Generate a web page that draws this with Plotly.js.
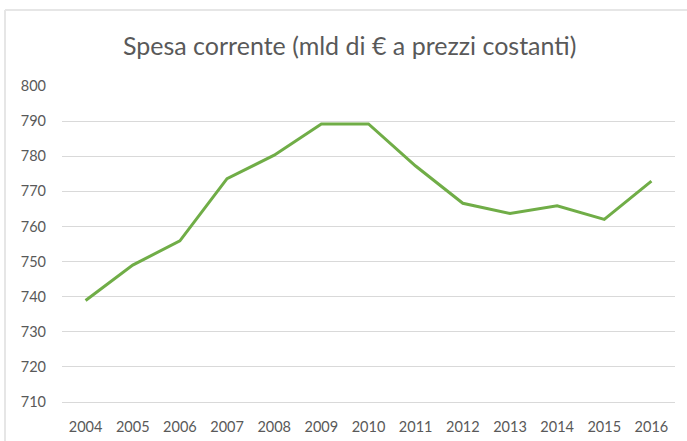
<!DOCTYPE html>
<html>
<head>
<meta charset="utf-8">
<script src="https://cdn.plot.ly/plotly-3.0.1.min.js"></script>
<style>html,body{margin:0;padding:0;background:#fff;}#chart{width:687px;height:441px;}</style>
</head>
<body>
<div id="chart"></div>
<script>
const years = ['2004','2005','2006','2007','2008','2009','2010','2011','2012','2013','2014','2015','2016'];
const spesa = [738.9, 749.0, 755.9, 773.6, 780.3, 789.2, 789.2, 777.2, 766.6, 763.7, 765.9, 762.0, 772.9];
const yTicks = [710, 720, 730, 740, 750, 760, 770, 780, 790, 800];
const titleText = 'Spesa corrente (mld di € a prezzi costanti)';

const trace = {
  x: years,
  y: spesa,
  type: 'scatter',
  mode: 'lines',
  line: {color: '#70AD47', width: 3},
  hoverinfo: 'x+y'
};

const layout = {
  width: 687,
  height: 441,
  margin: {l: 62, r: 12, t: 86, b: 39},
  paper_bgcolor: '#ffffff',
  plot_bgcolor: '#ffffff',
  showlegend: false,
  font: {family: 'Lato, "Open Sans", sans-serif', color: '#595959'},
  title: {
    text: titleText,
    font: {family: 'Lato, "Open Sans", sans-serif', size: 25, color: '#595959'},
    xref: 'container', x: 0.509, xanchor: 'center',
    yref: 'container', y: 1 - 46/441, yanchor: 'middle'
  },
  xaxis: {
    type: 'category',
    range: [-0.5, 12.5],
    showgrid: false,
    zeroline: false,
    showline: true,
    linecolor: '#d9d9d9',
    linewidth: 1,
    ticks: '',
    tickfont: {size: 14.5, color: '#595959'},
    ticklabelstandoff: 12
  },
  yaxis: {
    range: [710, 800],
    tickvals: yTicks,
    ticktext: yTicks.map(String),
    showgrid: true,
    gridcolor: '#d9d9d9',
    gridwidth: 1,
    zeroline: false,
    showline: false,
    ticks: '',
    tickfont: {size: 14.5, color: '#595959'},
    ticklabelstandoff: 15
  },
  shapes: [
    {type: 'line', xref: 'paper', yref: 'paper', x0: -57/613, x1: 1.1, y0: 392/316, y1: 392/316,
     line: {color: '#e6e6e6', width: 2}},
    {type: 'line', xref: 'paper', yref: 'paper', x0: -57/613, x1: -57/613, y0: -0.2, y1: 392/316,
     line: {color: '#e6e6e6', width: 2}}
  ]
};

Plotly.newPlot('chart', [trace], layout, {displayModeBar: false, staticPlot: true});
</script>
</body>
</html>
